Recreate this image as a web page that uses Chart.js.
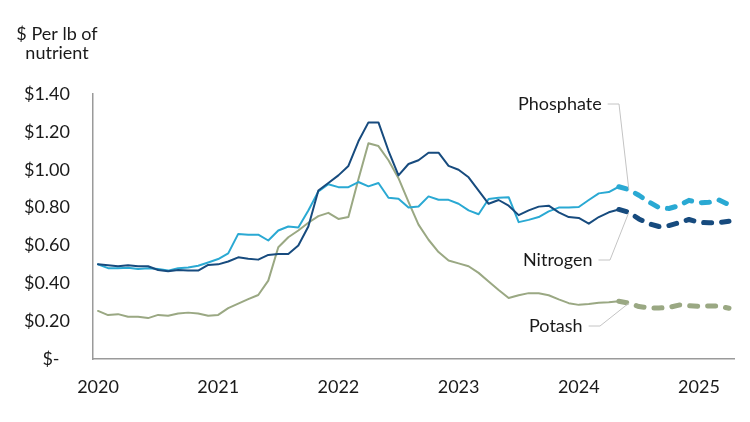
<!DOCTYPE html>
<html lang="en">
<head>
  <meta charset="UTF-8" />
  <title>Fertilizer prices per lb of nutrient</title>
  <script src="https://cdn.jsdelivr.net/npm/chart.js"></script>
  <style>
    body {
      margin: 0;
      background: #fff;
      font-family: 'Lato', sans-serif;
    }
    .wrap {
      position: relative;
      width: 750px;
      height: 422px;
    }
  </style>
</head>
<body>
  <div class="wrap">
    <canvas id="priceChart"></canvas>
  </div>

  <script>
    // monthly data, Jan 2020 - Apr 2025 ($ per lb of nutrient)
    const years = ['2020', '2021', '2022', '2023', '2024', '2025'];
    const monthCount = 64;
    const forecastStart = 52; // segments after this index are forecast (dashed)

    const nitrogen = [
      0.50, 0.495, 0.49, 0.495, 0.49, 0.49, 0.47, 0.463, 0.47, 0.467, 0.467, 0.497,
      0.50, 0.515, 0.537, 0.53, 0.525, 0.55, 0.555, 0.555, 0.60, 0.70, 0.89, 0.93,
      0.97, 1.02, 1.15, 1.25, 1.25, 1.10, 0.97, 1.03, 1.05, 1.09, 1.09, 1.02,
      1.00, 0.96, 0.89, 0.82, 0.84, 0.81, 0.76, 0.785, 0.805, 0.81, 0.775, 0.75,
      0.745, 0.715, 0.75, 0.775, 0.79, 0.775, 0.74, 0.715, 0.70, 0.705, 0.72, 0.737,
      0.722, 0.72, 0.72, 0.728
    ];
    const phosphate = [
      0.50, 0.48, 0.48, 0.482, 0.475, 0.48, 0.475, 0.467, 0.48, 0.483, 0.493, 0.51,
      0.528, 0.558, 0.661, 0.657, 0.657, 0.626, 0.679, 0.70, 0.695, 0.785, 0.885, 0.923,
      0.908, 0.908, 0.935, 0.912, 0.93, 0.852, 0.847, 0.80, 0.806, 0.859, 0.841, 0.841,
      0.82, 0.785, 0.765, 0.845, 0.852, 0.855, 0.723, 0.735, 0.75, 0.78, 0.80, 0.80,
      0.803, 0.84, 0.875, 0.882, 0.91, 0.895, 0.865, 0.83, 0.80, 0.795, 0.81, 0.838,
      0.825, 0.828, 0.84, 0.815
    ];
    const potash = [
      0.254, 0.232, 0.237, 0.223, 0.223, 0.216, 0.233, 0.228, 0.24, 0.245, 0.24, 0.228,
      0.233, 0.269, 0.293, 0.316, 0.338, 0.414, 0.59, 0.643, 0.679, 0.72, 0.755, 0.772,
      0.74, 0.75, 0.95, 1.14, 1.125, 1.05, 0.955, 0.83, 0.71, 0.63, 0.565, 0.52,
      0.505, 0.49, 0.455, 0.41, 0.365, 0.322, 0.337, 0.348, 0.347, 0.337, 0.315, 0.295,
      0.286, 0.29, 0.297, 0.30, 0.305, 0.295, 0.277, 0.27, 0.27, 0.272, 0.285, 0.282,
      0.278, 0.28, 0.28, 0.268
    ];

    // one label per month, only January gets a visible year
    const labels = [];
    for (let i = 0; i < monthCount; i++) {
      labels.push(i % 12 === 0 ? years[i / 12] : '');
    }

    const FONT = "'Lato', sans-serif";
    const TEXT = '#1a1a1a';

    function series(label, data, color) {
      return {
        label: label,
        data: data,
        borderColor: color,
        borderWidth: 2,
        pointRadius: 0,
        tension: 0,
        borderCapStyle: 'round',
        borderJoinStyle: 'round',
        segment: {
          borderDash: ctx => ctx.p0DataIndex >= forecastStart ? [8, 10] : undefined,
          borderWidth: ctx => ctx.p0DataIndex >= forecastStart ? 5 : undefined
        }
      };
    }

    // axis title + callout labels with leader lines
    const callouts = {
      id: 'callouts',
      afterDatasetsDraw(chart) {
        const c = chart.ctx;
        c.save();
        c.fillStyle = TEXT;
        c.font = '18px ' + FONT;
        c.textAlign = 'center';
        c.textBaseline = 'middle';
        c.fillText('$ Per lb of', 57, 34);
        c.fillText('nutrient', 57, 53);

        const items = [
          { text: 'Phosphate', ds: 1, tx: 518, ty: 104, elbow: 619 },
          { text: 'Nitrogen', ds: 0, tx: 523, ty: 260, elbow: 610 },
          { text: 'Potash', ds: 2, tx: 529, ty: 326, elbow: 600 }
        ];
        items.forEach(it => {
          const pt = chart.getDatasetMeta(it.ds).data[forecastStart + 1];
          c.textAlign = 'left';
          c.fillStyle = TEXT;
          c.fillText(it.text, it.tx, it.ty);
          const w = c.measureText(it.text).width;
          c.strokeStyle = '#c4c4c4';
          c.lineWidth = 1;
          c.beginPath();
          c.moveTo(it.tx + w + 6, it.ty);
          c.lineTo(it.elbow, it.ty);
          c.lineTo(pt.x, pt.y);
          c.stroke();
        });
        c.restore();
      }
    };

    new Chart(document.getElementById('priceChart'), {
      type: 'line',
      data: {
        labels: labels,
        datasets: [
          series('Nitrogen', nitrogen, '#174b7e'),
          series('Phosphate', phosphate, '#2aa9d3'),
          series('Potash', potash, '#9aa883')
        ]
      },
      options: {
        responsive: true,
        maintainAspectRatio: false,
        animation: false,
        layout: { padding: { top: 94, right: 16, bottom: 0, left: 0 } },
        plugins: {
          legend: { display: false },
          tooltip: { enabled: false }
        },
        scales: {
          x: {
            offset: true,
            grid: { display: false, drawTicks: false },
            border: { display: true, color: '#9a9a9a', width: 1.5 },
            ticks: {
              autoSkip: false,
              maxRotation: 0,
              padding: 17,
              color: TEXT,
              font: { family: FONT, size: 18 }
            },
            afterFit: s => { s.height = 63; }
          },
          y: {
            min: 0,
            max: 1.4,
            grid: { display: false, drawTicks: false },
            border: { display: true, color: '#9a9a9a', width: 1.5 },
            ticks: {
              stepSize: 0.2,
              padding: 23,
              color: TEXT,
              font: { family: FONT, size: 18 },
              callback: v => v === 0 ? '$-\u2007' : '$' + v.toFixed(2)
            },
            afterFit: s => { s.width = 93; }
          }
        }
      },
      plugins: [callouts]
    });
  </script>
</body>
</html>
